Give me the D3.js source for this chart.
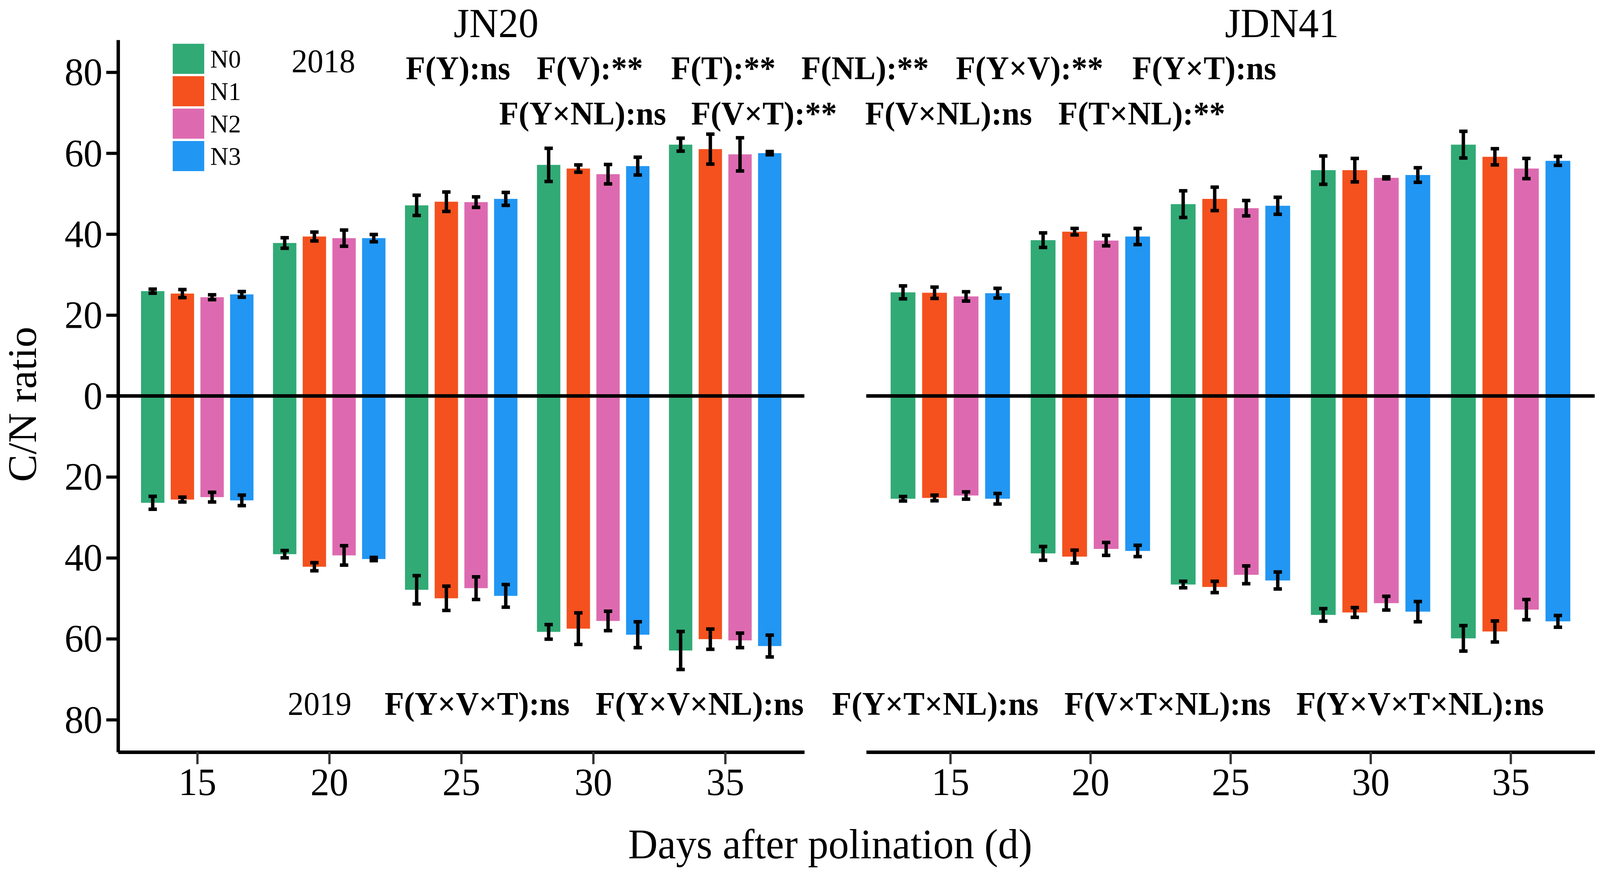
<!DOCTYPE html>
<html>
<head>
<meta charset="utf-8">
<script src="https://cdn.jsdelivr.net/npm/d3@7"></script>
<style>
  html, body { margin: 0; padding: 0; width: 100%; height: 100%; overflow: hidden; background: #fff; }
  #chart { width: 100vw; height: 100vh; }
  svg { display: block; }
  text { font-family: "Liberation Serif", "Times New Roman", serif; fill: #000; }
</style>
</head>
<body>
<div id="chart"></div>
<script>
// days after pollination and N levels
const days = [15, 20, 25, 30, 35];
const levels = ["N0", "N1", "N2", "N3"];
const colors = ["#31AA76", "#F4511E", "#DD6AB0", "#2196F3"];
const yTicks = [-80, -60, -40, -20, 0, 20, 40, 60, 80];

// JN20 (rows = days, cols = N0..N3)
const jn20_2018 = [[25.9, 25.3, 24.4, 25.1], [37.8, 39.4, 39.0, 39.0], [47.1, 48.0, 47.9, 48.7], [57.1, 56.2, 54.8, 56.8], [62.1, 61.0, 59.7, 60.0]];
const jn20_2018_se = [[0.5, 1.0, 0.6, 0.7], [1.3, 1.1, 2.0, 0.9], [2.5, 2.4, 1.3, 1.6], [4.1, 0.9, 2.4, 2.2], [1.6, 3.7, 4.1, 0.4]];
const jn20_2019 = [[26.4, 25.6, 25.0, 25.8], [39.1, 42.2, 39.4, 40.3], [47.9, 50.0, 47.5, 49.4], [58.3, 57.5, 55.6, 59.0], [62.9, 60.1, 60.4, 61.8]];
const jn20_2019_se = [[1.6, 0.6, 1.2, 1.3], [0.9, 1.0, 2.4, 0.4], [3.5, 3.0, 2.8, 2.8], [1.8, 3.9, 2.4, 3.2], [4.7, 2.5, 1.8, 2.7]];

// JDN41
const jdn41_2018 = [[25.6, 25.5, 24.6, 25.4], [38.5, 40.6, 38.4, 39.4], [47.4, 48.7, 46.4, 47.0], [55.8, 55.8, 53.9, 54.6], [62.1, 59.1, 56.2, 58.1]];
const jdn41_2018_se = [[1.6, 1.4, 1.15, 1.2], [1.8, 0.8, 1.3, 2.0], [3.3, 2.9, 1.9, 2.1], [3.5, 2.9, 0.25, 1.8], [3.3, 2.0, 2.5, 1.1]];
const jdn41_2019 = [[25.4, 25.2, 24.6, 25.4], [38.9, 39.7, 37.8, 38.3], [46.6, 47.2, 44.2, 45.6], [54.1, 53.5, 51.2, 53.3], [59.9, 58.2, 52.8, 55.7]];
const jdn41_2019_se = [[0.55, 0.7, 0.9, 1.3], [1.7, 1.6, 1.6, 1.4], [0.8, 1.4, 2.2, 2.1], [1.55, 1.2, 1.7, 2.5], [3.15, 2.6, 2.5, 1.45]];

// ANOVA annotation rows
const fRow1 = ["F(Y):ns", "F(V):**", "F(T):**", "F(NL):**", "F(Y×V):**", "F(Y×T):ns"];
const fRow2 = ["F(Y×NL):ns", "F(V×T):**", "F(V×NL):ns", "F(T×NL):**"];
const fRow3 = ["F(Y×V×T):ns", "F(Y×V×NL):ns", "F(Y×T×NL):ns", "F(V×T×NL):ns", "F(Y×V×T×NL):ns"];

const W = 4215, H = 2232;
const svg = d3.select("#chart").append("svg")
    .attr("width", "100%").attr("height", "100%")
    .attr("viewBox", `0 0 ${W} ${H}`)
    .attr("preserveAspectRatio", "none");
svg.append("rect").attr("width", W).attr("height", H).attr("fill", "#fff");

const y = d3.scaleLinear().domain([-88, 88]).range([1925, 102]);

const panels = [
    {title: "JN20", titleX: 1307, range: [311, 2119], up: jn20_2018, upSe: jn20_2018_se, down: jn20_2019, downSe: jn20_2019_se, yAxis: true},
    {title: "JDN41", titleX: 3377, range: [2282, 4201], up: jdn41_2018, upSe: jdn41_2018_se, down: jdn41_2019, downSe: jdn41_2019_se, yAxis: false}
];

const slot = 1.125, barW = 0.885;

panels.forEach(p => {
    const x = d3.scaleLinear().domain([12, 38]).range(p.range);
    const g = svg.append("g");

    const rows = [];
    days.forEach((d, i) => levels.forEach((lv, j) => {
        rows.push({day: d, j, v: p.up[i][j], se: p.upSe[i][j], sign: 1});
        rows.push({day: d, j, v: p.down[i][j], se: p.downSe[i][j], sign: -1});
    }));
    const cx = r => x(r.day + (r.j - 1.5) * slot);
    const bw = x(12 + barW) - x(12);

    // bars
    g.append("g").selectAll("rect")
        .data(rows).enter().append("rect")
        .attr("x", r => cx(r) - bw / 2)
        .attr("width", bw)
        .attr("y", r => r.sign > 0 ? y(r.v) : y(0))
        .attr("height", r => Math.abs(y(r.v) - y(0)))
        .attr("fill", r => colors[r.j]);

    // error bars
    const eb = g.append("g").attr("stroke", "#000").attr("stroke-width", 9);
    eb.selectAll("line.v").data(rows).enter().append("line")
        .attr("x1", cx).attr("x2", cx)
        .attr("y1", r => y(r.sign * (r.v - r.se)))
        .attr("y2", r => y(r.sign * (r.v + r.se)));
    [-1, 1].forEach(k => {
        eb.append("g").selectAll("line").data(rows).enter().append("line")
            .attr("x1", r => cx(r) - 11).attr("x2", r => cx(r) + 11)
            .attr("y1", r => y(r.sign * (r.v + k * r.se)))
            .attr("y2", r => y(r.sign * (r.v + k * r.se)));
    });

    // zero line
    g.append("line")
        .attr("x1", p.yAxis ? p.range[0] - 31 : p.range[0]).attr("x2", p.range[1])
        .attr("y1", y(0)).attr("y2", y(0))
        .attr("stroke", "#000").attr("stroke-width", 9);

    // x axis
    const xa = g.append("g")
        .attr("transform", `translate(0,${y.range()[0]})`)
        .call(d3.axisBottom(x).tickValues(days).tickSize(31).tickSizeOuter(0).tickPadding(8));
    xa.select(".domain").attr("stroke", "#000").attr("stroke-width", 9);
    xa.selectAll(".tick line").attr("stroke", "#333").attr("stroke-width", 6);
    xa.selectAll(".tick text").attr("font-size", 100).attr("font-family", "Liberation Serif").attr("fill", "#000");

    // y axis
    if (p.yAxis) {
        const ya = g.append("g")
            .attr("transform", `translate(${p.range[0]},0)`)
            .call(d3.axisLeft(y).tickValues(yTicks).tickSize(31).tickSizeOuter(0).tickPadding(10)
                .tickFormat(v => Math.abs(v)));
        ya.select(".domain").attr("stroke", "#000").attr("stroke-width", 9);
        ya.selectAll(".tick line").attr("stroke", "#000").attr("stroke-width", 8);
        ya.selectAll(".tick text").attr("font-size", 100).attr("font-family", "Liberation Serif").attr("fill", "#000");
    }

    // panel title
    svg.append("text").attr("x", p.titleX).attr("y", 95)
        .attr("text-anchor", "middle").attr("font-size", 106).text(p.title);
});

// legend
const leg = svg.append("g").attr("transform", "translate(455,112)");
levels.forEach((lv, i) => {
    leg.append("rect").attr("x", 0).attr("y", i * 83).attr("width", 83).attr("height", 77).attr("fill", colors[i]);
    leg.append("text").attr("x", 99).attr("y", i * 83 + 61).attr("font-size", 66).text(lv);
});

// year labels
svg.append("text").attr("x", 768).attr("y", 185).attr("font-size", 84).text("2018");
svg.append("text").attr("x", 758).attr("y", 1830).attr("font-size", 84).text("2019");

// F-test annotations
const addRow = (labels, xs, yy) => labels.forEach((t, i) =>
    svg.append("text").attr("x", xs[i]).attr("y", yy)
        .attr("font-size", 84).attr("font-weight", "bold").text(t));
addRow(fRow1, [1069, 1414, 1768, 2111, 2518, 2983], 203);
addRow(fRow2, [1315, 1821, 2279, 2788], 319);
addRow(fRow3, [1013, 1569, 2192, 2804, 3415], 1830);

// axis titles
svg.append("text").attr("x", 2187).attr("y", 2197).attr("text-anchor", "middle")
    .attr("font-size", 108).text("Days after polination (d)");
svg.append("text").attr("transform", "translate(95,1035) rotate(-90)")
    .attr("text-anchor", "middle").attr("font-size", 106).text("C/N ratio");
</script>
</body>
</html>
